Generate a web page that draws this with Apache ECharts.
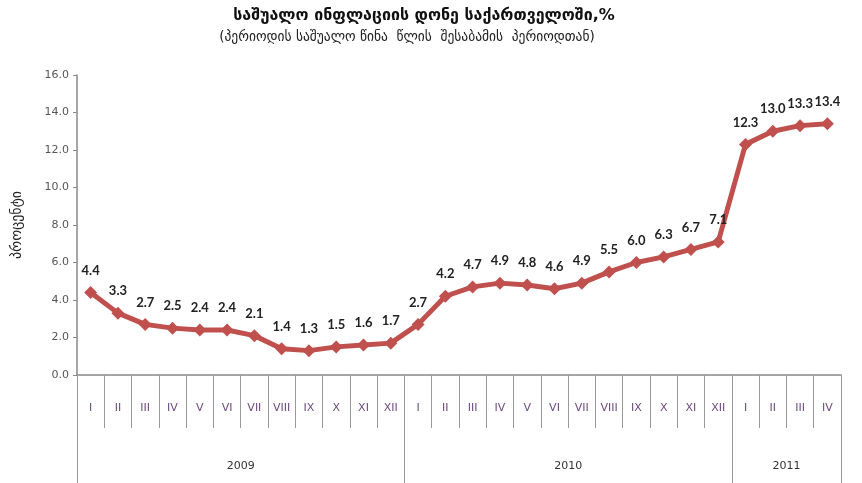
<!DOCTYPE html>
<html><head><meta charset="utf-8">
<script src="https://cdn.jsdelivr.net/npm/echarts@6/dist/echarts.min.js"></script>
<style>html,body{margin:0;padding:0;background:#fff}#c{width:862px;height:483px}</style>
</head><body><div id="c"></div>
<script>
const months = ['I','II','III','IV','V','VI','VII','VIII','IX','X','XI','XII',
                'I','II','III','IV','V','VI','VII','VIII','IX','X','XI','XII',
                'I','II','III','IV'];
const inflation = [4.4,3.3,2.7,2.5,2.4,2.4,2.1,1.4,1.3,1.5,1.6,1.7,
                   2.7,4.2,4.7,4.9,4.8,4.6,4.9,5.5,6.0,6.3,6.7,7.1,
                   12.3,13.0,13.3,13.4];
const years = ['2009','2010','2011'];
const yearSpans = [12,12,4];
const titleText = 'საშუალო ინფლაციის დონე საქართველოში,%';
const subText = '(პერიოდის საშუალო წინა  წლის  შესაბამის  პერიოდთან)';
const yName = 'პროცენტი';

// boundary-based year axis: positions 0..28
const yearAxisData = [];
const yearBounds = [0];
const yearLabelAt = {};
let acc = 0;
yearSpans.forEach((s,i)=>{ yearLabelAt[acc + s/2] = years[i]; acc += s; yearBounds.push(acc); });
for (let i=0;i<=acc;i++) yearAxisData.push(yearLabelAt[i] || '');

const chart = echarts.init(document.getElementById('c'));
chart.setOption({
  animation:false,
  title:[
    {text:titleText, left:419, top:3, textAlign:'center',
     textStyle:{fontFamily:'DejaVu Sans', fontSize:16, fontWeight:'bold', color:'#111'}},
    {text:subText, left:402, top:25, textAlign:'center',
     textStyle:{fontFamily:'DejaVu Sans', fontSize:13.5, fontWeight:'normal', color:'#222'}}
  ],
  grid:{left:77, right:21, top:75, bottom:108},
  xAxis:[
    {type:'category', data:months, position:'bottom', boundaryGap:true,
     axisLine:{lineStyle:{color:'#888', width:1.5}},
     axisTick:{show:true, interval:0, length:53, lineStyle:{color:'#999'}},
     axisLabel:{interval:0, margin:28, fontSize:11, fontFamily:'DejaVu Sans', color:'#6e4a7e'}},
    {type:'category', data:yearAxisData, position:'bottom', boundaryGap:false,
     axisLine:{show:false},
     axisTick:{show:true, length:110, interval:(i)=>yearBounds.includes(i), lineStyle:{color:'#999'}},
     axisLabel:{interval:0, margin:86, fontSize:11, fontFamily:'DejaVu Sans', color:'#333'}}
  ],
  yAxis:{type:'value', min:0, max:16, interval:2,
    name:yName, nameLocation:'middle', nameRotate:90, nameGap:53,
    nameTextStyle:{fontFamily:'DejaVu Sans', fontSize:14, color:'#222'},
    axisLine:{show:true, lineStyle:{color:'#888', width:1.5}},
    axisTick:{show:true, length:4, lineStyle:{color:'#888'}},
    splitLine:{show:false},
    axisLabel:{formatter:(v)=>v.toFixed(1), fontSize:11, fontFamily:'DejaVu Sans', color:'#555', margin:8}},
  series:[{
    type:'line', xAxisIndex:0, data:inflation,
    symbol:'diamond', symbolSize:13,
    lineStyle:{color:'#c0504d', width:5},
    itemStyle:{color:'#c0504d'},
    label:{show:true, position:'top', distance:9, formatter:(p)=>p.value.toFixed(1),
      fontFamily:'Lato', fontWeight:'bold', fontSize:13, color:'#222'}
  }]
});
</script></body></html>
